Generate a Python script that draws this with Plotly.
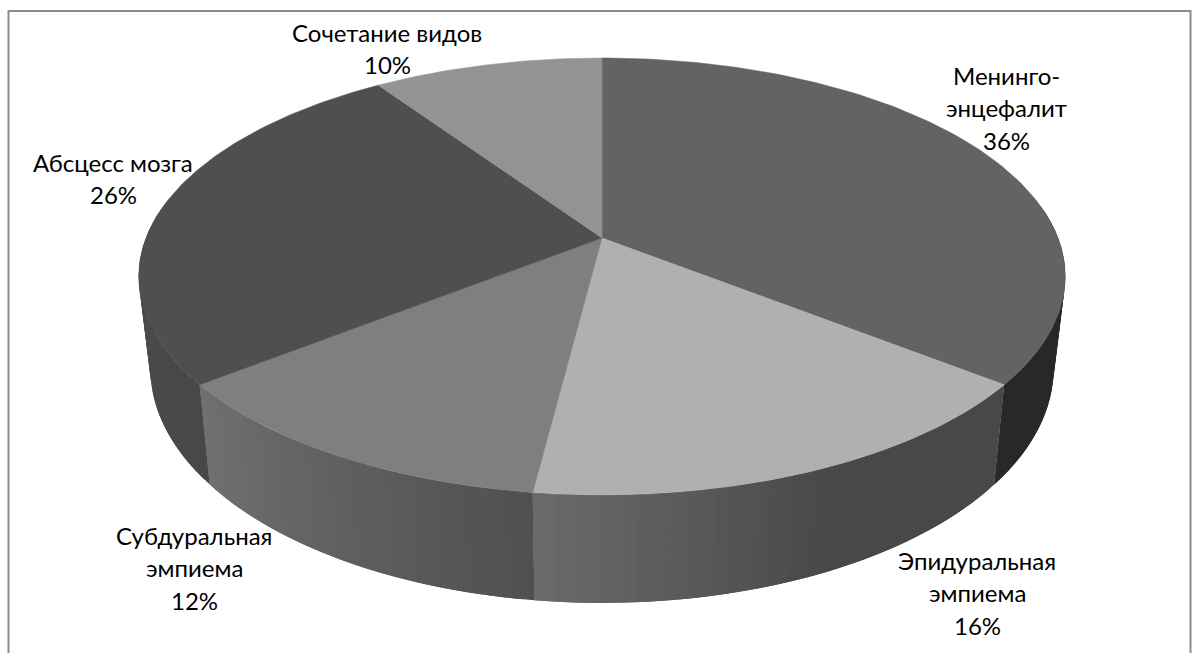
import numpy as np
import plotly.graph_objects as go

# ---- data ----
categories = ["Менинго-энцефалит", "Эпидуральная эмпиема", "Субдуральная эмпиема",
              "Абсцесс мозга", "Сочетание видов"]
values = [35.6, 16.4, 12.4, 26.1, 9.5]
label_lines = [["Менинго-", "энцефалит", "36%"],
               ["Эпидуральная", "эмпиема", "16%"],
               ["Субдуральная", "эмпиема", "12%"],
               ["Абсцесс мозга", "26%"],
               ["Сочетание видов", "10%"]]

# ---- style ----
top_colors = ["#636363", "#b0b0b0", "#7f7f7f", "#4f4f4f", "#939393"]
label_pos = [(1006, 75), (977, 560), (194, 535), (113, 162), (387, 32)]
LINE_PITCH = 32.5

# ---- perspective projection of the pie ----
CX, CY = 602.0, 238.0
K = 0.176
A, B = 211.7, 456.0
WALL_H = 89.0
WALL_X = 0.975


def project(theta):
    u = np.sin(theta)
    v = -np.cos(theta)
    d = 1 - K * v
    return CX + B * u / d, CY + A * v / d, v, d


def project_bottom(theta):
    x, y, v, d = project(theta)
    return CX + (x - CX) * WALL_X, y + WALL_H / d


def wall_gray(i, f):
    """Shade of the wall of slice i; f runs 0..1 clockwise along the slice."""
    if i == 0:
        return 40
    if i == 1:  # light at its left (clockwise end), dark to the right
        return 72 + 34 * max(0.0, (f - 0.45) / 0.55)
    if i == 2:  # light at its left (clockwise end)
        return 80 + 32 * f
    if i == 3:
        return 72 + 6 * f
    return 80


fig = go.Figure()
fr = np.array(values, dtype=float) / sum(values)
edges = np.concatenate([[0], np.cumsum(fr)]) * 2 * np.pi

# side walls: narrow overlapping quads, drawn first so the top covers the back part
for i in range(len(values)):
    t0, t1 = edges[i], edges[i + 1]
    n = max(2, int((t1 - t0) / (2 * np.pi) * 300))
    ts = np.linspace(t0, t1, n + 1)
    for j in range(n):
        a, b = ts[j], ts[j + 1]
        if np.cos((a + b) / 2) > 0.15:
            continue
        g = int(round(wall_gray(i, j / max(1, n - 1))))
        col = f"rgb({g},{g},{g})"
        # bands reach into the next one: the next band paints over the seam
        b2 = min(t1, b + (b - a))
        arc = np.linspace(a, b2, 5)
        xt, yt, _, _ = project(arc)
        xb, yb = project_bottom(arc)
        fig.add_trace(go.Scatter(x=np.r_[xt, xb[::-1], xt[0]], y=np.r_[yt, yb[::-1], yt[0]],
                                 mode="lines", fill="toself", fillcolor=col,
                                 line=dict(width=0), hoverinfo="skip", showlegend=False))

# top faces
for i in range(len(values)):
    ts = np.linspace(edges[i], edges[i + 1], 120)
    xs, ys, _, _ = project(ts)
    fig.add_trace(go.Scatter(x=np.r_[CX, xs, CX], y=np.r_[CY, ys, CY],
                             mode="lines", fill="toself", fillcolor=top_colors[i],
                             line=dict(color=top_colors[i], width=0.5),
                             name=categories[i], hoverinfo="name", showlegend=False))

annotations = []
for lines, (lx, ly) in zip(label_lines, label_pos):
    for k, s in enumerate(lines):
        annotations.append(dict(x=lx, y=ly + k * LINE_PITCH, text=s, showarrow=False,
                                xanchor="center", yanchor="middle",
                                font=dict(family="Lato, Carlito, sans-serif", size=24, color="#000000")))

fig.update_layout(
    width=1192, height=653, margin=dict(l=0, r=0, t=0, b=0),
    paper_bgcolor="white", plot_bgcolor="white", showlegend=False,
    xaxis=dict(range=[0, 1192], visible=False, fixedrange=True),
    yaxis=dict(range=[653, 0], visible=False, fixedrange=True),
    annotations=annotations,
    shapes=[dict(type="path", path="M 8.5 653 L 8.5 11 L 1190.5 11 L 1190.5 653",
                 line=dict(color="#8c8c8c", width=2))],
)
fig.write_html("out.html", config={"displayModeBar": False},
               post_script="document.body.style.margin='0';document.body.style.overflow='hidden';")
